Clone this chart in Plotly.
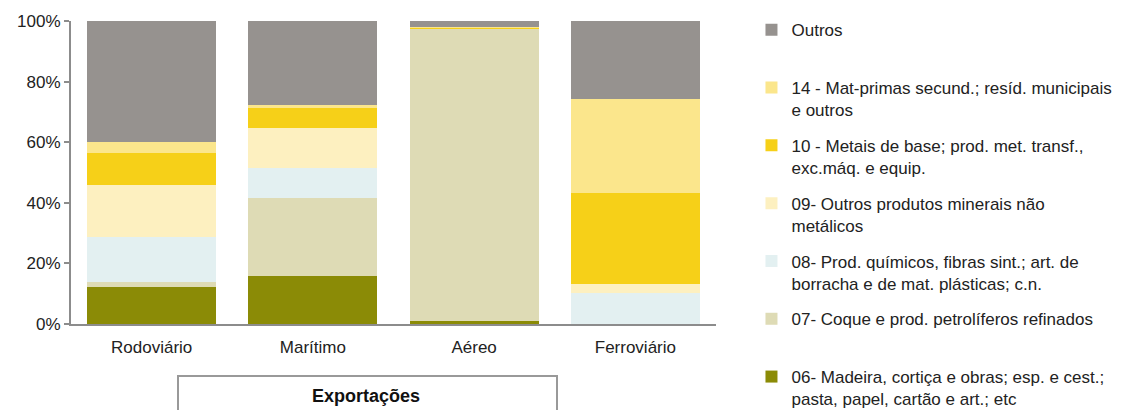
import plotly.graph_objects as go

categories = ["Rodoviário", "Marítimo", "Aéreo", "Ferroviário"]

series_names = [
    "06- Madeira, cortiça e obras; esp. e cest.;<br>pasta, papel, cartão e art.; etc",
    "07- Coque e prod. petrolíferos refinados<br>\u00a0",
    "08- Prod. químicos, fibras sint.; art. de<br>borracha e de mat. plásticas; c.n.",
    "09- Outros produtos minerais não<br>metálicos",
    "10 - Metais de base; prod. met. transf.,<br>exc.máq. e equip.",
    "14 - Mat-primas secund.; resíd. municipais<br>e outros",
    "Outros<br>\u00a0",
]

v06 = [0.123, 0.158, 0.010, 0.000]
v07 = [0.017, 0.257, 0.966, 0.000]
v08 = [0.148, 0.101, 0.000, 0.101]
v09 = [0.170, 0.132, 0.000, 0.031]
v10 = [0.105, 0.064, 0.002, 0.301]
v14 = [0.038, 0.012, 0.002, 0.309]
voutros = [0.399, 0.276, 0.020, 0.258]

values = [v06, v07, v08, v09, v10, v14, voutros]
colors = ["#8b8b06", "#dedbb5", "#e3f0f1", "#fdf0c0", "#f6d018", "#fbe68c", "#96928f"]

fig = go.Figure()
for i, (name, vals, col) in enumerate(zip(series_names, values, colors)):
    fig.add_trace(go.Bar(
        x=categories, y=vals, name=name,
        marker=dict(color=col, line=dict(width=0)),
        legendgroup=f"g{i}",
        legendrank=1000 - i,
    ))

# page body has an 8px default margin; compensate so the plot lands where intended
fig.update_layout(
    barmode="stack",
    bargap=0.2,
    width=1136, height=402,
    margin=dict(l=63, r=428, t=13, b=86, autoexpand=False),
    plot_bgcolor="white", paper_bgcolor="white",
    font=dict(family="Liberation Sans, Arial, sans-serif", size=17, color="#222222"),
    showlegend=True,
    legend=dict(
        x=1.055, xanchor="left", y=1.029, yanchor="top",
        traceorder="grouped",
        tracegroupgap=10.6,
        valign="top",
        maxheight=600,
        font=dict(size=17, color="#222222"),
        bgcolor="rgba(0,0,0,0)",
    ),
    xaxis=dict(
        showgrid=False, showline=True, linecolor="#8c8c8c", linewidth=2,
        ticks="", tickfont=dict(size=17), ticklabelstandoff=7, automargin=False,
    ),
    yaxis=dict(
        range=[0, 1], tickformat=".0%", dtick=0.2,
        showgrid=False, showline=True, linecolor="#8c8c8c", linewidth=2,
        ticks="outside", ticklen=5, tickcolor="#8c8c8c", tickwidth=2,
        tickfont=dict(size=17), zeroline=False, automargin=False,
    ),
)

fig.add_shape(type="rect", xref="paper", yref="paper",
              x0=(178 - 71) / 645, x1=(557 - 71) / 645,
              y0=-0.32, y1=-0.172,
              line=dict(color="#999999", width=2), fillcolor="white", layer="above")
fig.add_annotation(text="<b>Exportações</b>", xref="paper", yref="paper",
                   x=(366 - 71) / 645, y=-0.237, showarrow=False,
                   font=dict(size=18, color="#111111"), yanchor="middle")

fig.write_html("out.html")
